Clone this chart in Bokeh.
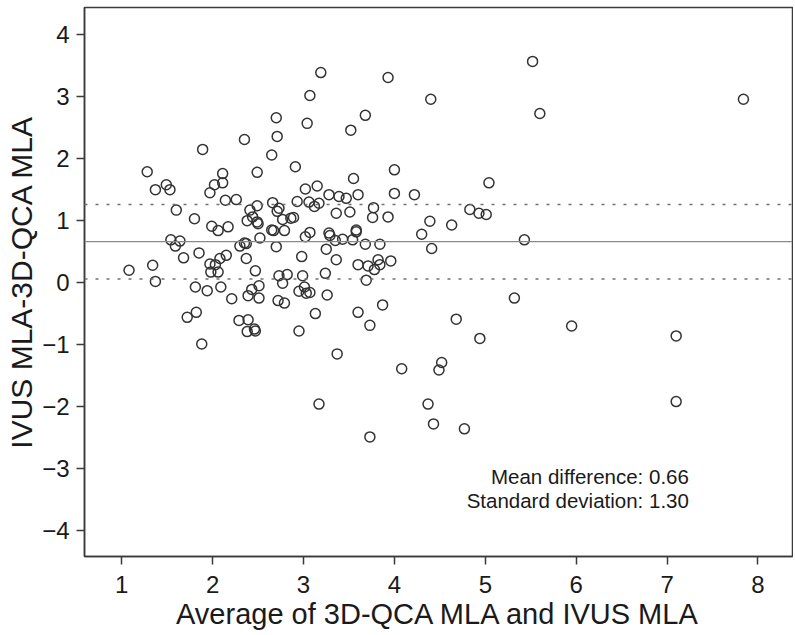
from bokeh.plotting import figure
from bokeh.models import Span, Label, FixedTicker
from bokeh.embed import file_html
from bokeh.resources import INLINE

# Bland-Altman data: average (x) and difference (y)
avg = [1.89, 2.35, 2.70, 2.71, 3.04, 2.65, 1.28, 1.49, 1.37, 1.53,
       2.11, 2.02, 2.11, 1.97, 2.49, 2.91, 3.02, 2.14, 2.26, 1.60,
       1.80, 1.99, 2.06, 2.17, 2.41, 2.49, 2.66, 2.73, 2.71, 2.93,
       3.06, 2.44, 2.38, 2.49, 2.50, 2.52, 2.65, 2.67, 2.79, 2.77,
       2.86, 2.89, 3.02, 3.07, 1.54, 1.64, 1.59, 1.68, 1.85, 2.15,
       2.08, 2.30, 2.35, 2.37, 2.37, 2.70, 2.98, 1.08, 1.34, 1.97,
       2.03, 1.98, 2.06, 2.47, 2.73, 2.82, 2.99, 1.37, 2.77, 1.81,
       1.94, 2.09, 2.51, 2.43, 2.21, 2.39, 2.51, 2.72, 2.79, 2.95,
       3.01, 3.03, 3.07, 1.72, 1.82, 2.29, 2.39, 2.38, 2.46, 2.47,
       2.95, 1.88, 3.19, 3.93, 3.07, 4.40, 3.68, 3.52, 4.00, 3.55,
       3.15, 3.12, 3.17, 3.28, 3.39, 3.47, 3.60, 4.00, 4.22, 5.04,
       3.36, 3.51, 3.77, 3.76, 3.93, 4.39, 4.63, 4.83, 4.93, 5.01,
       3.28, 3.29, 3.35, 3.43, 3.54, 3.58, 3.58, 3.68, 3.84, 4.30,
       4.41, 3.25, 3.36, 3.60, 3.71, 3.82, 3.84, 3.78, 3.96, 3.24,
       3.69, 3.26, 3.13, 3.60, 3.87, 3.73, 3.37, 4.68, 4.94, 4.08,
       4.52, 4.49, 3.17, 4.37, 4.43, 4.77, 3.73, 5.52, 5.60, 7.84,
       5.43, 5.32, 5.95, 7.10, 7.10]
diff = [2.15, 2.31, 2.66, 2.36, 2.57, 2.06, 1.79, 1.58, 1.50, 1.50,
        1.76, 1.58, 1.61, 1.45, 1.78, 1.87, 1.51, 1.33, 1.34, 1.17,
        1.03, 0.91, 0.84, 0.90, 1.17, 1.24, 1.29, 1.20, 1.15, 1.31,
        1.30, 1.06, 1.00, 0.98, 0.95, 0.72, 0.85, 0.84, 0.84, 1.02,
        1.04, 1.05, 0.74, 0.81, 0.69, 0.67, 0.59, 0.40, 0.48, 0.44,
        0.39, 0.59, 0.64, 0.63, 0.39, 0.58, 0.42, 0.20, 0.28, 0.30,
        0.29, 0.17, 0.17, 0.19, 0.11, 0.13, 0.11, 0.02, -0.01, -0.07,
        -0.13, -0.07, -0.05, -0.11, -0.26, -0.21, -0.25, -0.29, -0.33, -0.14,
        -0.07, -0.17, -0.16, -0.56, -0.48, -0.61, -0.60, -0.79, -0.75, -0.78,
        -0.78, -0.99, 3.39, 3.31, 3.02, 2.96, 2.70, 2.46, 1.82, 1.68,
        1.56, 1.23, 1.28, 1.42, 1.39, 1.36, 1.42, 1.44, 1.42, 1.61,
        1.12, 1.14, 1.21, 1.05, 1.06, 0.99, 0.93, 1.18, 1.12, 1.10,
        0.80, 0.76, 0.68, 0.70, 0.69, 0.85, 0.82, 0.62, 0.62, 0.78,
        0.55, 0.54, 0.37, 0.29, 0.27, 0.37, 0.29, 0.21, 0.35, 0.15,
        0.04, -0.20, -0.50, -0.48, -0.36, -0.69, -1.15, -0.59, -0.90, -1.39,
        -1.29, -1.41, -1.96, -1.96, -2.28, -2.36, -2.49, 3.57, 2.73, 2.96,
        0.69, -0.25, -0.70, -0.86, -1.92]

mean_diff = 0.66
sd_diff = 1.30
limit_half_width = 0.60

x_ticks = [1, 2, 3, 4, 5, 6, 7, 8]
y_ticks = [-4, -3, -2, -1, 0, 1, 2, 3, 4]
y_tick_labels = ["\u22124", "\u22123", "\u22122", "\u22121", "0", "1", "2", "3", "4"]

FONT = "Liberation Sans"
DARK = "#3a3a3a"

p = figure(width=793, height=635, output_backend="svg", toolbar_location=None,
           x_range=(0.59, 8.38), y_range=(-4.42, 4.44),
           min_border_left=84, min_border_right=1, min_border_top=7,
           min_border_bottom=79)

p.xgrid.visible = False
p.ygrid.visible = False
p.outline_line_color = DARK
p.outline_line_width = 1.5
p.background_fill_color = "white"
p.border_fill_color = "white"

for ax in (p.xaxis[0], p.yaxis[0]):
    ax.axis_line_color = DARK
    ax.axis_line_width = 1.5
    ax.major_tick_line_color = DARK
    ax.major_tick_line_width = 1.5
    ax.major_tick_in = 0
    ax.major_tick_out = 8
    ax.minor_tick_line_color = None
    ax.major_label_text_font = FONT
    ax.major_label_text_font_size = "24px"
    ax.major_label_text_color = "#1a1a1a"
    ax.axis_label_text_font = FONT
    ax.axis_label_text_font_style = "normal"
    ax.axis_label_text_color = "#1a1a1a"

p.xaxis.axis_label_text_font_size = "29px"
p.yaxis.axis_label_text_font_size = "30px"
p.xaxis.ticker = FixedTicker(ticks=x_ticks)
p.yaxis.ticker = FixedTicker(ticks=y_ticks)
p.yaxis.major_label_overrides = {t: l for t, l in zip(y_ticks, y_tick_labels)}
p.xaxis.major_label_standoff = 11
p.yaxis.major_label_standoff = 7
p.xaxis.axis_label = "Average of 3D-QCA MLA and IVUS MLA"
p.yaxis.axis_label = "IVUS MLA-3D-QCA MLA"
p.xaxis.axis_label_standoff = 2
p.yaxis.axis_label_standoff = 1

p.add_layout(Span(location=mean_diff, dimension="width", line_color="#8a8a8a", line_width=1.2))
p.add_layout(Span(location=mean_diff + limit_half_width, dimension="width",
                  line_color="#707070", line_width=1.5, line_dash="3 8"))
p.add_layout(Span(location=mean_diff - limit_half_width, dimension="width",
                  line_color="#707070", line_width=1.5, line_dash="3 8"))

p.scatter(avg, diff, marker="circle", size=10, fill_color=None,
          line_color="#333333", line_width=1.5)

p.add_layout(Label(x=7.24, y=-3.13, text=f"Mean difference: {mean_diff:.2f}",
                   text_align="right", text_baseline="middle",
                   text_font=FONT, text_font_size="20.5px", text_color="#1a1a1a"))
p.add_layout(Label(x=7.24, y=-3.51, text=f"Standard deviation: {sd_diff:.2f}",
                   text_align="right", text_baseline="middle",
                   text_font=FONT, text_font_size="20.5px", text_color="#1a1a1a"))

open("out.html", "w").write(file_html(p, INLINE))
